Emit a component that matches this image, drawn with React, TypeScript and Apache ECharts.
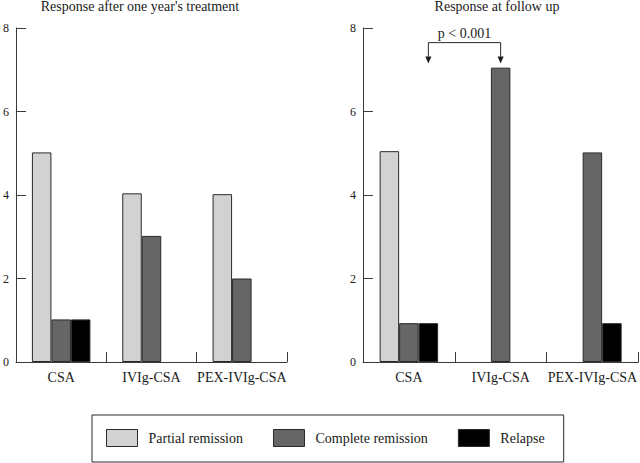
import React, { useEffect, useRef } from "react";
import * as echarts from "echarts";

const categories = ["CSA", "IVIg-CSA", "PEX-IVIg-CSA"];
const seriesNames = ["Partial remission", "Complete remission", "Relapse"];
const seriesColors = ["#d2d2d2", "#666666", "#000000"];

// Response after one year's treatment
const yearPartial = [5.02, 4.04, 4.02];
const yearComplete = [1.02, 3.02, 2.0];
const yearRelapse = [1.02, 0, 0];

// Response at follow up
const followPartial = [5.05, 0, 0];
const followComplete = [0.93, 7.05, 5.02];
const followRelapse = [0.93, 0, 0.93];

const yTicks = [0, 2, 4, 6, 8];
const titles = ["Response after one year's treatment", "Response at follow up"];
const pLabel = "p < 0.001";

const FONT = '"Liberation Serif", "Times New Roman", serif';
const TEXT = "#1a1a1a";
const AXIS = "#3a3a3a";
const BAR_W = 19.5;

export default function App() {
  const ref = useRef<HTMLDivElement>(null);

  useEffect(() => {
    if (!ref.current) return;
    const chart = echarts.init(ref.current, null, { renderer: "svg" });

    const grids = [
      { left: 13, top: 28, width: 274, height: 334 },
      { left: 363, top: 28, width: 276, height: 334 },
    ];

    const mkX = (gi: number) => ({
      type: "category" as const,
      gridIndex: gi,
      data: categories,
      boundaryGap: true,
      axisLine: { show: true, lineStyle: { color: AXIS, width: 1 } },
      axisTick: { show: true, inside: true, length: 10, alignWithLabel: false, interval: 0, lineStyle: { color: AXIS } },
      axisLabel: { interval: 0, margin: 8, fontFamily: FONT, fontSize: 14, color: TEXT },
      splitLine: { show: false },
    });
    const mkY = (gi: number) => ({
      type: "value" as const,
      gridIndex: gi,
      min: yTicks[0],
      max: yTicks[yTicks.length - 1],
      interval: yTicks[1] - yTicks[0],
      axisLine: { show: true, lineStyle: { color: AXIS, width: 1 } },
      axisTick: { show: true, inside: true, length: 10, lineStyle: { color: AXIS } },
      axisLabel: { margin: 7, fontFamily: FONT, fontSize: 12, color: TEXT },
      splitLine: { show: false },
    });

    const groups = [
      [yearPartial, yearComplete, yearRelapse],
      [followPartial, followComplete, followRelapse],
    ];
    const series: any[] = [];
    groups.forEach((g, gi) => {
      g.forEach((vals, si) => {
        series.push({
          type: "bar",
          name: seriesNames[si],
          xAxisIndex: gi,
          yAxisIndex: gi,
          data: vals.map((v) => (v === 0 ? "-" : v)),
          barWidth: BAR_W,
          barGap: "0%",
          itemStyle: { color: seriesColors[si], borderColor: "#2a2a2a", borderWidth: 1 },
          emphasis: { disabled: true },
        });
      });
    });

    const titleTexts = [
      {
        type: "text",
        x: 140,
        y: 6,
        style: { text: titles[0], font: `14px ${FONT}`, fill: TEXT, textAlign: "center", textVerticalAlign: "middle" },
      },
      {
        type: "text",
        x: 497,
        y: 6,
        style: { text: titles[1], font: `14px ${FONT}`, fill: TEXT, textAlign: "center", textVerticalAlign: "middle" },
      },
    ];

    chart.setOption({
      animation: false,
      grid: grids,
      xAxis: [mkX(0), mkX(1)],
      yAxis: [mkY(0), mkY(1)],
      series,
      legend: {
        data: seriesNames,
        left: 92,
        top: 415,
        orient: "horizontal",
        icon: "rect",
        itemWidth: 31,
        itemHeight: 17,
        itemGap: 30,
        padding: [14, 19, 15, 14],
        borderColor: "#2a2a2a",
        borderWidth: 1,
        selectedMode: false,
        itemStyle: { borderColor: "#2a2a2a", borderWidth: 1 },
        textStyle: { fontFamily: FONT, fontSize: 14, color: TEXT, padding: [0, 0, 0, 6] },
      },
      graphic: titleTexts,
    });

    // significance bracket between CSA relapse bar and IVIg-CSA complete bar (follow up)
    const xLeft = (chart.convertToPixel({ xAxisIndex: 1 } as any, categories[0]) as number) + BAR_W;
    const xRight = chart.convertToPixel({ xAxisIndex: 1 } as any, categories[1]) as number;
    const yTip = chart.convertToPixel({ yAxisIndex: 1 } as any, 7.15) as number;
    const yBar = chart.convertToPixel({ yAxisIndex: 1 } as any, 7.65) as number;
    const yText = chart.convertToPixel({ yAxisIndex: 1 } as any, 7.88) as number;
    const head = 7;
    chart.setOption({
      graphic: [
        ...titleTexts,
        {
          type: "polyline",
          shape: { points: [[xLeft, yTip - head], [xLeft, yBar], [xRight, yBar], [xRight, yTip - head]] },
          style: { stroke: "#2a2a2a", lineWidth: 1, fill: "none" },
        },
        {
          type: "polygon",
          shape: { points: [[xLeft - 3, yTip - head], [xLeft + 3, yTip - head], [xLeft, yTip]] },
          style: { fill: "#1a1a1a" },
        },
        {
          type: "polygon",
          shape: { points: [[xRight - 3, yTip - head], [xRight + 3, yTip - head], [xRight, yTip]] },
          style: { fill: "#1a1a1a" },
        },
        {
          type: "text",
          x: (xLeft + xRight) / 2,
          y: yText,
          style: { text: pLabel, font: `14px ${FONT}`, fill: TEXT, textAlign: "center", textVerticalAlign: "middle" },
        },
      ],
    });

    return () => chart.dispose();
  }, []);

  return (
    <div
      ref={ref}
      style={{ position: "fixed", left: 0, top: 0, width: 640, height: 463, background: "#ffffff" }}
    />
  );
}
